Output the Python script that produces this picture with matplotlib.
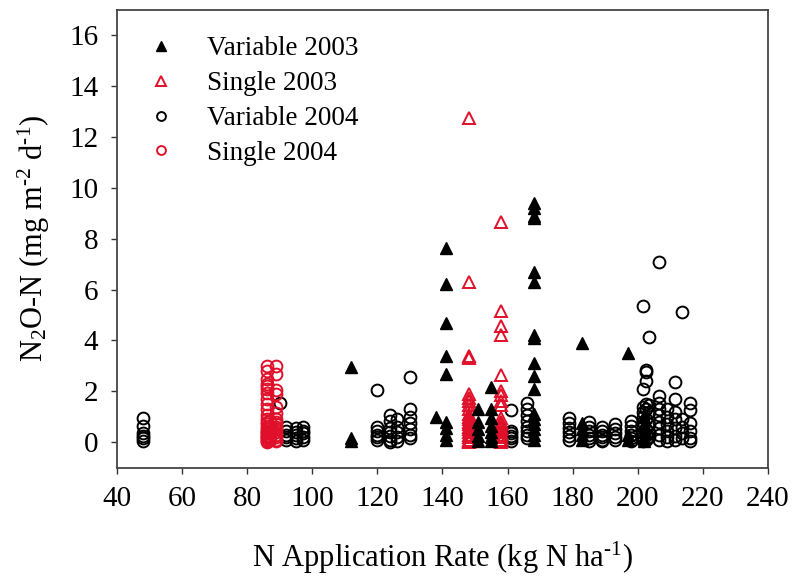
import matplotlib
matplotlib.use('Agg')
import matplotlib.pyplot as plt

plt.rcParams['font.family'] = ['Liberation Serif', 'DejaVu Serif']
plt.rcParams['mathtext.fontset'] = 'custom'
plt.rcParams['mathtext.rm'] = 'Liberation Serif'
plt.rcParams['mathtext.it'] = 'Liberation Serif:italic'

# Variable 2003 (filled black triangles): rate -> list of fluxes
var03 = {
    112: [2.95, 0.15, 0.05],
    138: [1.0],
    141: [7.65, 6.2, 4.7, 3.4, 2.7, 0.8, 0.55, 0.3, 0.1],
    151: [1.3, 0.8, 0.5, 0.25, 0.05],
    155: [2.15, 1.3, 0.95, 0.65, 0.4, 0.2, 0.05],
    168: [9.4, 9.2, 8.9, 8.8, 6.7, 6.3, 4.2, 4.1, 3.1, 2.6, 2.1, 1.1, 0.9, 0.7, 0.5, 0.3, 0.1],
    183: [3.9, 0.75, 0.5, 0.3, 0.1],
    197: [3.5, 0.3, 0.1],
    202: [1.0, 0.7, 0.4, 0.2, 0.05],
}

# Single 2003 (open red triangles)
sin03 = {
    148: [12.75, 6.3, 3.4, 3.3, 1.9, 1.75, 1.6, 1.45, 1.3, 1.1, 1.0, 0.9, 0.8, 0.7,
          0.6, 0.5, 0.4, 0.3, 0.2, 0.1, 0.05, 0.0],
    158: [8.65, 5.15, 4.55, 4.2, 2.65, 2.0, 1.85, 1.6, 1.45, 0.95, 0.8, 0.7, 0.6,
          0.5, 0.4, 0.3, 0.2, 0.1, 0.05, 0.0],
}

# Variable 2004 (open black circles)
var04 = {
    48: [0.95, 0.62, 0.35, 0.25, 0.15, 0.05],
    90: [1.55],
    92: [0.6, 0.45, 0.3, 0.2, 0.1],
    95: [0.55, 0.4, 0.3, 0.15, 0.05],
    97: [0.6, 0.45, 0.35, 0.2, 0.1],
    120: [2.05, 0.6, 0.45, 0.3, 0.2, 0.1],
    124: [1.05, 0.85, 0.55, 0.4, 0.25, 0.1, 0.0],
    126: [0.9, 0.6, 0.4, 0.2, 0.05],
    130: [2.55, 1.3, 1.0, 0.75, 0.5, 0.3, 0.15],
    161: [1.25, 0.45, 0.35, 0.25, 0.15, 0.05],
    166: [1.55, 1.3, 1.05, 0.85, 0.6, 0.45, 0.3, 0.15],
    179: [0.95, 0.75, 0.55, 0.4, 0.25, 0.1],
    185: [0.8, 0.6, 0.45, 0.3, 0.15, 0.05],
    189: [0.6, 0.45, 0.3, 0.2, 0.1, 0.05],
    193: [0.7, 0.5, 0.35, 0.2, 0.1],
    198: [0.85, 0.65, 0.45, 0.3, 0.15, 0.05],
    201.5: [5.35, 2.1, 1.4, 1.2, 1.0, 0.8, 0.6, 0.4, 0.2, 0.05],
    202.5: [2.85, 2.75, 2.4, 1.5, 1.3, 0.9, 0.5, 0.3, 0.1],
    203.5: [4.15, 1.45, 1.2, 0.7, 0.4, 0.2],
    206.5: [7.1, 1.8, 1.55, 1.3, 1.05, 0.8, 0.55, 0.3, 0.1],
    209: [1.3, 1.0, 0.7, 0.45, 0.2, 0.05],
    211.5: [2.35, 1.7, 1.2, 0.9, 0.55, 0.25, 0.1],
    213.5: [5.1, 0.9, 0.6, 0.35, 0.15],
    216: [1.55, 1.25, 0.75, 0.45, 0.15, 0.05],
}

# Single 2004 (open red circles)
sin04 = {
    86: [3.0, 2.8, 2.5, 2.3, 2.2, 2.1, 1.95, 1.7, 1.5, 1.3, 1.05, 0.9, 0.8, 0.7, 0.6,
         0.5, 0.45, 0.4, 0.35, 0.3, 0.25, 0.2, 0.15, 0.1, 0.05, 0.0],
    87: [0.85, 0.65, 0.45, 0.25, 0.1],
    89: [3.0, 2.7, 2.05, 1.9, 1.4, 1.15, 0.9, 0.8, 0.7, 0.6, 0.5, 0.4, 0.3, 0.2,
         0.1, 0.05],
}

red = '#e0102a'


def flatten(d):
    xs, ys = [], []
    for k, vals in d.items():
        xs += [k] * len(vals)
        ys += vals
    return xs, ys


fig = plt.figure(figsize=(7.92, 5.78), dpi=100)
ax = fig.add_axes([0.1477, 0.191, 0.822, 0.792])

x, y = flatten(var04)
ax.plot(x, y, 'o', ls='none', ms=8.5, mfc='none', mec='black', mew=1.4, label='Variable 2004')
x, y = flatten(sin04)
ax.plot(x, y, 'o', ls='none', ms=8.5, mfc='none', mec=red, mew=1.4, label='Single 2004')
x, y = flatten(sin03)
ax.plot(x, y, '^', ls='none', ms=9, mfc='none', mec=red, mew=1.4, label='Single 2003')
x, y = flatten(var03)
ax.plot(x, y, '^', ls='none', ms=9, mfc='black', mec='black', label='Variable 2003')

ax.set_xlim(40, 240)
ax.set_ylim(-1, 17)
ax.set_xticks(range(40, 241, 20))
ax.set_yticks(range(0, 17, 2))
ax.tick_params(direction='out', length=4.5, width=1, labelsize=21, pad=9, color='#333333')
for s in ax.spines.values():
    s.set_color('#444444')
    s.set_linewidth(1.3)

ax.set_xlabel('N Application Rate (kg N ha$^{\u2010 1}$)', fontsize=22, labelpad=20)
ax.set_ylabel('N$_2$O-N (mg m$^{\u2010 2}$ d$^{\u2010 1}$)', fontsize=22, labelpad=12)

handles, labels = ax.get_legend_handles_labels()
order = [3, 2, 0, 1]
leg = ax.legend([handles[i] for i in order], [labels[i] for i in order],
                loc='upper left', bbox_to_anchor=(0.01, 0.995), frameon=False,
                fontsize=19.5, markerscale=0.75, handletextpad=1.2,
                labelspacing=0.36, handlelength=1.0)

fig.savefig('out.png', dpi=100)
